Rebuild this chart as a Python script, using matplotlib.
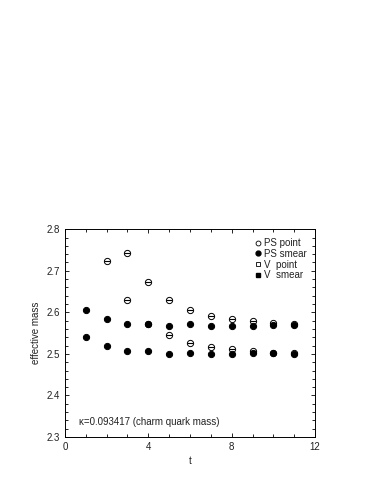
import matplotlib
matplotlib.use("Agg")
import matplotlib.pyplot as plt
from matplotlib.ticker import MultipleLocator
from matplotlib.lines import Line2D

plt.rcParams['font.family'] = ['Liberation Sans', 'DejaVu Sans']

t_ps_point = [2, 3, 4, 5, 6, 7, 8, 9, 10, 11]
ps_point = [2.724, 2.629, 2.573, 2.545, 2.527, 2.516, 2.511, 2.507, 2.503, 2.502]

t_ps_smear = [1, 2, 3, 4, 5, 6, 7, 8, 9, 10, 11]
ps_smear = [2.541, 2.518, 2.506, 2.506, 2.500, 2.502, 2.499, 2.500, 2.501, 2.501, 2.500]

t_v_point = [3, 4, 5, 6, 7, 8, 9, 10, 11]
v_point = [2.742, 2.672, 2.629, 2.605, 2.590, 2.583, 2.579, 2.575, 2.572]

t_v_smear = [1, 2, 3, 4, 5, 6, 7, 8, 9, 10, 11]
v_smear = [2.605, 2.584, 2.573, 2.573, 2.568, 2.571, 2.567, 2.568, 2.568, 2.569, 2.569]

txt = '#222222'
fig = plt.figure(figsize=(3.82, 4.94), dpi=100)
ax = fig.add_axes([0.170, 0.1154, 0.655, 0.4206])

ms = 4.5
def draw(t, y, marker, filled, label):
    ax.plot(t, y, linestyle='none', marker=marker, ms=ms,
            mfc='black' if filled else 'white', mec='black', mew=0.7, label=label)
    ax.plot(t, y, linestyle='none', marker='_', ms=ms, mec='black', mew=0.8)

draw(t_ps_point, ps_point, 'o', False, 'PS point')
draw(t_ps_smear, ps_smear, 'o', True, 'PS smear')
draw(t_v_point, v_point, 'o', False, 'V  point')
draw(t_v_smear, v_smear, 'o', True, 'V  smear')

ax.set_xlim(0, 12)
ax.set_ylim(2.3, 2.8)
ax.xaxis.set_major_locator(MultipleLocator(4))
ax.xaxis.set_minor_locator(MultipleLocator(1))
ax.yaxis.set_major_locator(MultipleLocator(0.1))
ax.yaxis.set_minor_locator(MultipleLocator(0.02))
ax.tick_params(which='both', direction='in', top=True, right=True, labelsize=7,
               width=0.6, labelcolor=txt)
ax.tick_params(which='major', length=3)
ax.tick_params(which='minor', length=2)
for s in ax.spines.values():
    s.set_linewidth(0.7)

ax.set_xlabel('t', fontsize=7, labelpad=3, color=txt)
ax.set_ylabel('effective mass', fontsize=7, labelpad=4, color=txt)

ax.text(0.055, 0.06, 'κ=0.093417 (charm quark mass)', transform=ax.transAxes,
        fontsize=7, color=txt)

handles = [Line2D([], [], ls='none', marker='o', ms=3.5, mfc='white', mec='black', mew=0.6),
           Line2D([], [], ls='none', marker='o', ms=3.5, mfc='black', mec='black'),
           Line2D([], [], ls='none', marker='s', ms=3.2, mfc='white', mec='black', mew=0.6),
           Line2D([], [], ls='none', marker='s', ms=3.2, mfc='black', mec='black')]
leg = ax.legend(handles, ['PS point', 'PS smear', 'V  point', 'V  smear'],
                loc='upper right', bbox_to_anchor=(1.0, 1.0), frameon=False, fontsize=7,
                handletextpad=0.1, handlelength=1.0, labelspacing=0.08, borderaxespad=0.5)
for tx in leg.get_texts():
    tx.set_color(txt)

fig.savefig('out.png', dpi=100)
